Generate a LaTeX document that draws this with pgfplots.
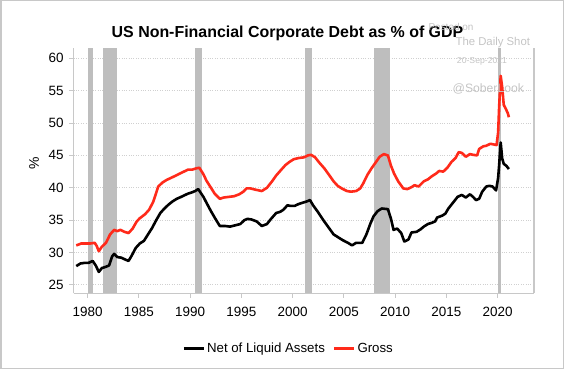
\documentclass[border=0pt]{standalone}
\usepackage{fontspec}
\setmainfont{Liberation Sans}
\usepackage{pgfplots}
\pgfplotsset{compat=1.18}
\definecolor{framegray}{HTML}{C8C8C8}
\definecolor{recgray}{HTML}{BEBEBE}
\definecolor{gridgray}{HTML}{D0D0D0}
\definecolor{grossred}{HTML}{FF2A1A}
\definecolor{wmgray}{HTML}{C4C4C4}
\begin{document}
\begin{tikzpicture}
\useasboundingbox (0bp,0bp) rectangle (564bp,369bp);
\begin{axis}[
  at={(73.7bp,75.7bp)}, anchor=south west,
  width=460.3bp, height=245bp, scale only axis,
  xmin=1978.65, xmax=2023.55, ymin=23.7, ymax=61.55,
  axis x line*=bottom, axis y line*=box,
  axis line style={framegray, line width=1.5bp, -},
  xtick={1980,1985,...,2020}, ytick={25,30,...,60},
  xtick pos=bottom, ytick pos=left, tick align=outside,
  major tick length=4.5bp,
  every tick/.style={framegray, line width=1bp},
  xticklabel style={/pgf/number format/1000 sep={}, yshift=-6bp},
  yticklabel style={xshift=-2bp},
  /pgf/number format/assume math mode=true,
  tick label style={font=\fontsize{13.5}{15}\selectfont, text=black},
  ymajorgrids, grid style={gridgray, dotted, line width=0.8bp},
  legend style={at={(0.467,-0.225)}, anchor=center, draw=none, fill=none,
    legend columns=2, font=\fontsize{13.3}{15}\selectfont,
    /tikz/every even column/.append style={column sep=6bp}},
  legend image code/.code={\draw[#1, line width=2.6bp] (0bp,0bp) -- (20bp,0bp);},
]
\addplot[fill=recgray, draw=none, forget plot] coordinates {(1980.0,23.7) (1980.0,61.55) (1980.5,61.55) (1980.5,23.7)} -- cycle;
\addplot[fill=recgray, draw=none, forget plot] coordinates {(1981.5,23.7) (1981.5,61.55) (1982.9,61.55) (1982.9,23.7)} -- cycle;
\addplot[fill=recgray, draw=none, forget plot] coordinates {(1990.5,23.7) (1990.5,61.55) (1991.2,61.55) (1991.2,23.7)} -- cycle;
\addplot[fill=recgray, draw=none, forget plot] coordinates {(2001.2,23.7) (2001.2,61.55) (2001.9,61.55) (2001.9,23.7)} -- cycle;
\addplot[fill=recgray, draw=none, forget plot] coordinates {(2007.9,23.7) (2007.9,61.55) (2009.5,61.55) (2009.5,23.7)} -- cycle;
\addplot[fill=recgray, draw=none, forget plot] coordinates {(2020.05,23.7) (2020.05,61.55) (2020.3,61.55) (2020.3,23.7)} -- cycle;
\addplot[black, line width=2.6bp, line join=round] coordinates {
(1978.9,27.9) (1979.3,28.3) (1979.7,28.4) (1980.1,28.4) (1980.5,28.7) (1980.8,28.0)
(1981.1,27.0) (1981.4,27.6) (1981.8,27.8) (1982.1,28.0) (1982.4,29.4) (1982.6,29.8)
(1982.9,29.3) (1983.3,29.2) (1983.7,28.9) (1984.0,28.7) (1984.3,29.5) (1984.7,30.7)
(1985.1,31.4) (1985.5,31.8) (1985.9,32.8) (1986.3,33.8) (1986.7,35.0) (1987.1,36.1)
(1987.5,36.8) (1987.9,37.4) (1988.3,37.9) (1988.7,38.3) (1989.0,38.5) (1989.4,38.8)
(1989.8,39.1) (1990.2,39.3) (1990.5,39.5) (1990.8,39.8) (1991.3,38.6) (1991.6,37.7)
(1992.0,36.5) (1992.4,35.4) (1992.9,34.1) (1993.4,34.1) (1993.9,34.0) (1994.4,34.2)
(1994.9,34.4) (1995.3,35.0) (1995.6,35.2) (1996.0,35.1) (1996.5,34.8) (1997.0,34.1)
(1997.5,34.4) (1997.9,35.2) (1998.4,36.1) (1998.8,36.3) (1999.1,36.6) (1999.5,37.3)
(1999.8,37.2) (2000.2,37.2) (2000.6,37.5) (2001.0,37.7) (2001.4,37.9) (2001.7,38.1)
(2002.0,37.3) (2002.5,36.2) (2003.0,35.0) (2003.5,33.9) (2004.0,32.8) (2004.5,32.3)
(2004.9,31.9) (2005.4,31.5) (2005.8,31.1) (2006.2,31.5) (2006.8,31.5) (2007.2,32.8)
(2007.6,34.5) (2007.9,35.6) (2008.3,36.4) (2008.7,36.8) (2009.3,36.7) (2009.6,35.2)
(2009.85,33.5) (2010.2,33.7) (2010.6,33.0) (2010.9,31.7) (2011.3,32.0) (2011.6,33.1)
(2012.1,33.2) (2012.5,33.6) (2012.8,34.0) (2013.2,34.4) (2013.6,34.6) (2013.9,34.8)
(2014.1,35.4) (2014.6,35.7) (2014.9,36.0) (2015.2,36.8) (2015.7,37.8) (2016.1,38.6)
(2016.5,38.9) (2016.9,38.5) (2017.3,39.0) (2017.6,38.6) (2017.9,38.1) (2018.2,38.3)
(2018.5,39.4) (2018.9,40.2) (2019.2,40.3) (2019.5,40.2) (2019.85,39.6) (2020.05,41.5)
(2020.15,43.5) (2020.3,47.0) (2020.45,44.5) (2020.6,43.7) (2020.85,43.4) (2021.1,42.9)
};
\addlegendentry{Net of Liquid Assets}
\addplot[grossred, line width=2.6bp, line join=round] coordinates {
(1978.9,31.1) (1979.4,31.4) (1979.9,31.4) (1980.3,31.4) (1980.7,31.5) (1980.9,31.0)
(1981.1,30.2) (1981.4,30.9) (1981.8,31.5) (1982.2,32.8) (1982.6,33.5) (1982.9,33.3)
(1983.2,33.5) (1983.6,33.2) (1984.0,33.0) (1984.4,33.7) (1984.8,34.8) (1985.1,35.3)
(1985.6,35.9) (1986.0,36.6) (1986.4,37.8) (1986.9,40.2) (1987.3,40.8) (1987.7,41.2)
(1988.1,41.5) (1988.5,41.8) (1989.0,42.2) (1989.4,42.5) (1989.8,42.8) (1990.2,42.8)
(1990.6,43.0) (1990.9,43.1) (1991.3,42.1) (1991.6,41.1) (1992.0,40.1) (1992.4,39.1)
(1992.9,38.3) (1993.3,38.5) (1993.8,38.6) (1994.3,38.7) (1994.8,39.0) (1995.2,39.4)
(1995.5,39.9) (1995.9,39.9) (1996.4,39.7) (1997.0,39.5) (1997.5,40.0) (1998.0,41.0)
(1998.4,41.9) (1998.9,42.8) (1999.3,43.5) (1999.7,44.0) (2000.1,44.4) (2000.6,44.6)
(2001.1,44.7) (2001.5,45.0) (2001.8,45.1) (2002.2,44.7) (2002.6,43.9) (2003.1,43.0)
(2003.6,41.9) (2004.0,41.0) (2004.4,40.3) (2004.8,39.9) (2005.3,39.5) (2005.7,39.4)
(2006.2,39.5) (2006.6,39.9) (2006.9,40.7) (2007.3,42.0) (2007.7,43.0) (2008.1,43.9)
(2008.5,44.8) (2008.9,45.2) (2009.3,45.0) (2009.6,43.4) (2009.9,42.2) (2010.3,41.0)
(2010.8,39.9) (2011.2,39.8) (2011.6,40.1) (2011.9,40.4) (2012.3,40.2) (2012.8,41.0)
(2013.2,41.3) (2013.6,41.8) (2014.0,42.2) (2014.3,42.6) (2014.7,42.5) (2015.1,43.1)
(2015.5,44.0) (2015.9,44.6) (2016.2,45.5) (2016.5,45.4) (2016.9,44.8) (2017.3,45.2)
(2017.6,45.1) (2018.0,45.0) (2018.2,46.0) (2018.6,46.4) (2018.9,46.5) (2019.3,46.8)
(2019.6,46.7) (2019.9,46.6) (2020.05,48.5) (2020.15,52.5) (2020.3,57.3) (2020.45,55.5)
(2020.6,52.8) (2020.8,52.2) (2021.0,51.5) (2021.1,50.9)
};
\addlegendentry{Gross}
\end{axis}
\node[font=\bfseries\fontsize{16}{18}\selectfont] at (287.5bp,336bp) {US Non-Financial Corporate Debt as \% of GDP};
\node[rotate=90, font=\fontsize{14}{16}\selectfont] at (34bp,206bp) {\%};
\node[text=wmgray, font=\fontsize{10}{11}\selectfont] at (451bp,342.5bp) {Posted on};
\node[text=wmgray, font=\fontsize{11.4}{13}\selectfont] at (492.8bp,326.3bp) {The Daily Shot};
\node[text=wmgray, font=\fontsize{8.7}{10}\selectfont] at (482bp,308bp) {20-Sep-2021};
\node[text=wmgray, font=\fontsize{12.2}{14}\selectfont] at (488.3bp,279.7bp) {@SoberLook};
\draw[framegray, line width=1.5bp] (0.75bp,0.75bp) rectangle (563.25bp,368.25bp);
\end{tikzpicture}
\end{document}
